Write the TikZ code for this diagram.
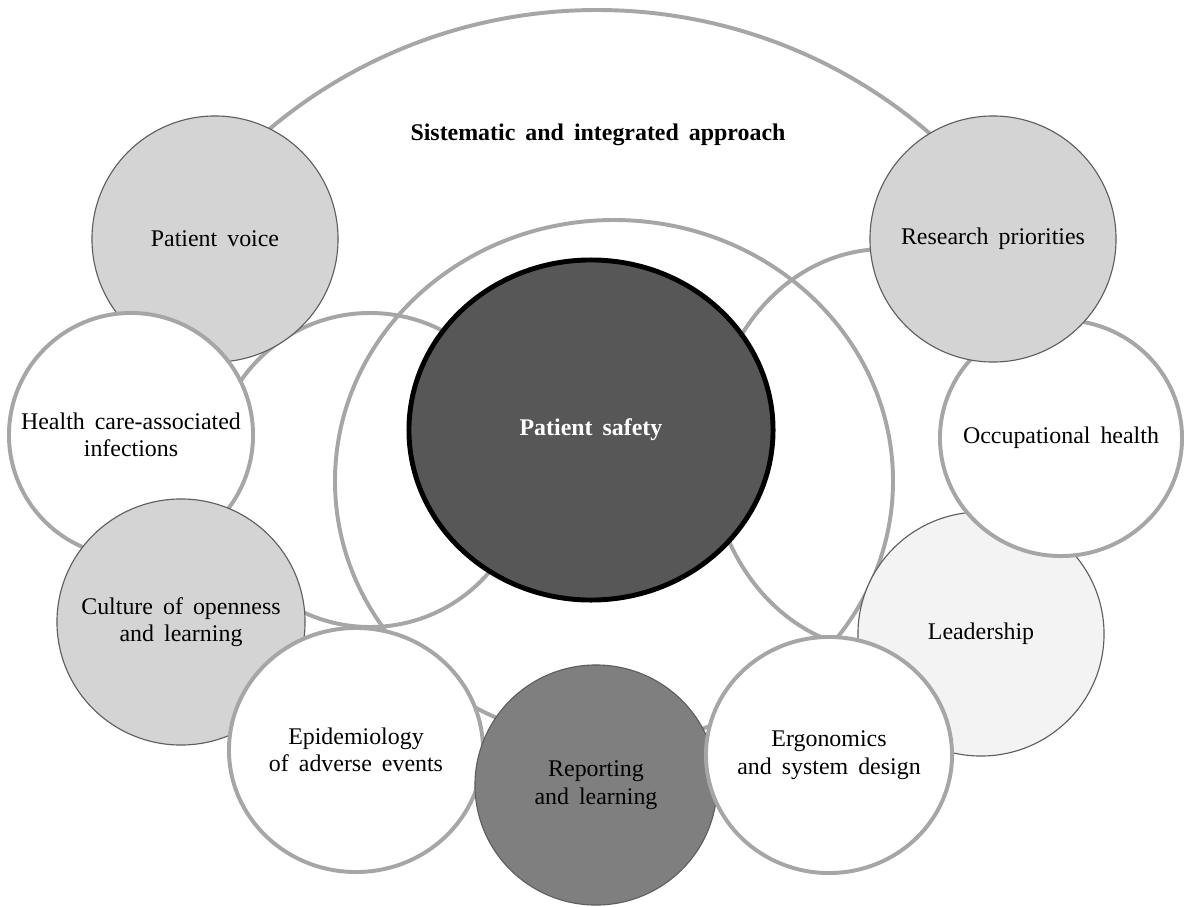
\documentclass[tikz,border=0pt]{standalone}
\usepackage{fontspec}
\setmainfont{Liberation Serif}
\usetikzlibrary{shapes.geometric}

\definecolor{ringgray}{HTML}{A6A6A6}
\definecolor{bubblegray}{HTML}{D4D4D4}
\definecolor{rimgray}{HTML}{5E5E5E}
\definecolor{palegray}{HTML}{F2F3F2}
\definecolor{midgray}{HTML}{7F7F7F}
\definecolor{coregray}{HTML}{575757}

\newcommand{\bubblefont}{\fontsize{17pt}{19.5pt}\selectfont\spaceskip=0.42em plus 0.1em\relax}

\begin{document}
\begin{tikzpicture}[x=0.025cm,y=-0.025cm,
    ring/.style={draw=ringgray,line width=2.8pt},
    bubble/.style={ellipse,align=center,inner sep=-1.6cm,font=\bubblefont},
    greybubble/.style={bubble,fill=bubblegray,draw=rimgray,line width=0.8pt},
    whitebubble/.style={bubble,fill=white,draw=ringgray,line width=2.8pt}]
    \pgfmathsetmacro{\arcradius}{510}
    \pgfmathsetmacro{\leftringradius}{157}
    \useasboundingbox (0,0) rectangle (1184,907);
    \fill[white] (0,0) rectangle (1184,907);
    % rings in the back
    \draw[ring] (597,520) ++(-135:\arcradius) arc[start angle=-135,end angle=-45,radius=\arcradius];
    \draw[ring] (614,481) ellipse[x radius=279,y radius=261];
    \draw[ring] (370,470) circle[radius=\leftringradius];
    \draw[ring] (885,450) ellipse[x radius=175,y radius=201];
    \node[font=\bubblefont\bfseries] (approach) at (598,135) {Sistematic and integrated approach};
    \node[bubble,fill=coregray,draw=black,line width=3.5pt,text=white,font=\bubblefont\bfseries,
        minimum width=9.1cm,minimum height=8.5cm] (safety) at (591,430) {Patient safety};
    % outer bubbles, back to front
    \node[greybubble,minimum width=6.15cm,minimum height=6.15cm] (voice) at (215,239) {Patient voice};
    \node[whitebubble,minimum width=6.1cm,minimum height=6.1cm] (infections) at (131,435) {Health care-associated\\infections};
    \node[greybubble,minimum width=6.2cm,minimum height=6.15cm] (culture) at (181,622) {Culture of openness\\and learning};
    \node[whitebubble,minimum width=6.35cm,minimum height=6.1cm] (epidemiology) at (356,750) {Epidemiology\\of adverse events};
    \node[bubble,fill=midgray,draw=rimgray,line width=0.8pt,minimum width=6.05cm,minimum height=6cm] (reporting) at (596,785) {Reporting\\and learning};
    \node[bubble,fill=palegray,draw=rimgray,line width=0.8pt,minimum width=6.15cm,minimum height=6.1cm] (leadership) at (981,634) {Leadership};
    \node[whitebubble,minimum width=6.05cm,minimum height=5.9cm] (occupational) at (1061,438) {Occupational health};
    \node[greybubble,minimum width=6.15cm,minimum height=6.15cm] (research) at (993,239) {Research priorities};
    \node[whitebubble,minimum width=6.15cm,minimum height=5.9cm] (ergonomics) at (829,755) {Ergonomics\\and system design};
\end{tikzpicture}
\end{document}
